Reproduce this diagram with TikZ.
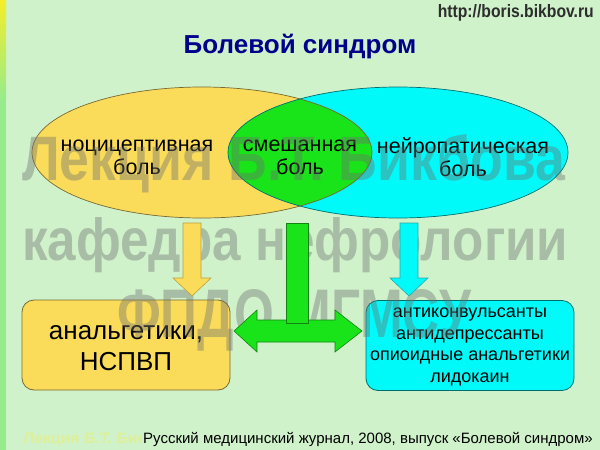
\documentclass[tikz,border=0pt]{standalone}
\usepackage{fontspec}
\setmainfont{Liberation Sans}
\usepackage{graphicx}
\usetikzlibrary{shapes.geometric}
\definecolor{bg}{RGB}{208,242,202}
\definecolor{stripeY}{RGB}{245,238,40}
\definecolor{stripeG}{RGB}{150,236,140}
\definecolor{yel}{RGB}{250,220,90}
\definecolor{cy}{RGB}{0,250,250}
\definecolor{grn}{RGB}{25,228,25}
\definecolor{yelD}{RGB}{120,105,50}
\definecolor{yelA}{RGB}{190,160,60}
\definecolor{cyD}{RGB}{0,110,110}
\definecolor{cyA}{RGB}{40,170,170}
\definecolor{grnD}{RGB}{20,130,20}
\definecolor{titleC}{RGB}{0,0,140}
\definecolor{urlC}{RGB}{45,45,45}
\definecolor{wm}{RGB}{110,110,110}
\definecolor{wmY}{RGB}{250,235,60}
\begin{document}
\begin{tikzpicture}[x=1pt,y=-1pt,
  lbl/.style={align=center, font=\fontsize{21.5}{23}\selectfont, text=black, inner sep=0pt},
  boxshape/.style={rounded corners=12pt, minimum width=208pt, minimum height=90pt, inner sep=0pt, line width=0.8pt},
  wmark/.style={anchor=base west, inner sep=0pt, text=wm, text opacity=0.4},
  blk/.style={line width=0.6pt, line join=miter}]

\useasboundingbox (0,0) rectangle (600,450);
\fill[bg] (0,0) rectangle (600,450);
\shade[top color=stripeY, bottom color=stripeG] (0,0) rectangle (6,100);
\fill[stripeG] (0,100) rectangle (6,450);

% ellipses
\coordinate (nocC) at (202,152.5);
\coordinate (neuC) at (398,152.5);
\fill[yel] (nocC) ellipse [x radius=170pt, y radius=65.5pt];
\fill[cy] (neuC) ellipse [x radius=170pt, y radius=65.5pt];
\begin{scope}
\clip (nocC) ellipse [x radius=170pt, y radius=65.5pt];
\fill[grn] (neuC) ellipse [x radius=170pt, y radius=65.5pt];
\end{scope}
\draw[yelD, line width=0.7pt] (nocC) ellipse [x radius=170pt, y radius=65.5pt];
\draw[cyD, line width=0.7pt] (neuC) ellipse [x radius=170pt, y radius=65.5pt];

\node[lbl] (nocT) at (137,157.5) {ноцицептивная\\боль};
\node[lbl] (mixT) at (300,157.5) {смешанная\\боль};
\node[lbl] (neuT) at (463,157.5) {нейропатическая\\боль};

% boxes
\node[boxshape, fill=yel, draw=yelD] (analg) at (126,345) {};
\node[align=center, font=\fontsize{26}{31}\selectfont, inner sep=0pt] (analgT) at (126,348) {анальгетики,\\НСПВП};
\node[boxshape, fill=cy, draw=cyD] (drugs) at (470,345.5) {};
\node[align=center, font=\fontsize{18}{21.5}\selectfont, inner sep=0pt] (drugsT) at (470,347) {антиконвульсанты\\антидепрессанты\\опиоидные анальгетики\\лидокаин};

% watermark
\node[wmark] (wm1) at (22,180) {\resizebox{543pt}{46pt}{\bfseries Лекция Б.Т. Бикбова}};
\node[wmark] (wm2) at (22,260) {\resizebox{546pt}{43pt}{\bfseries кафедра нефрологии}};
\node[wmark] (wm3) at (117,337) {\resizebox{354pt}{48pt}{\bfseries ФПДО МГМСУ}};

% arrows
\draw[blk, fill=yel, draw=yelA] (183,223) -- (201,223) -- (201,278) -- (211,278) -- (192,296) -- (173,278) -- (183,278) -- cycle;
\draw[blk, fill=cy, draw=cyA] (400,223) -- (418,223) -- (418,278) -- (428,278) -- (409,296) -- (390,278) -- (400,278) -- cycle;
\draw[blk, fill=grn, draw=grnD] (234,331) -- (257,310) -- (257,320) -- (335,320) -- (335,310) -- (362,331) -- (335,352) -- (335,342) -- (257,342) -- (257,352) -- cycle;
\draw[blk, fill=grn, draw=grnD] (286,223) rectangle (308,323);

% title and url
\node[font=\fontsize{26}{30}\selectfont\bfseries, text=titleC] (title) at (300,47) {Болевой синдром};
\node[anchor=base east, inner sep=0pt, text=urlC] (url) at (594,17) {\resizebox{156pt}{13pt}{\bfseries http://boris.bikbov.ru}};

% bottom
\node[anchor=base west, inner sep=0pt, text=wmY, text opacity=0.35] (wm4) at (23,443) {\resizebox{160pt}{11pt}{\bfseries Лекция Б.Т. Бикбова}};
\node[anchor=base west, inner sep=1pt, fill=bg, font=\fontsize{15}{18}\selectfont] (cite) at (142,443) {Русский медицинский журнал, 2008, выпуск «Болевой синдром»};
\end{tikzpicture}
\end{document}
